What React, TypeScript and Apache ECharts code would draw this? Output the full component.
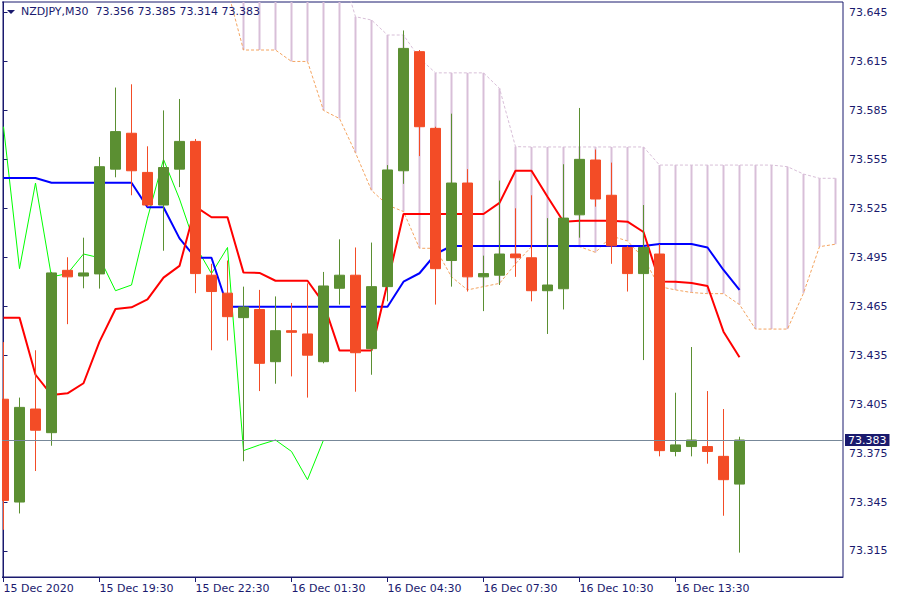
import React, { useEffect, useRef } from 'react';
import * as echarts from 'echarts';

// ---- data (bar index 0 = 15 Dec 2020 16:30, M30 bars) ----
const opens = [
  73.408, 73.345, 73.402, 73.3875, 73.487, 73.4835, 73.4848, 73.549, 73.571, 73.547,
  73.527, 73.549, 73.566, 73.484, 73.473, 73.458, 73.463, 73.431, 73.450, 73.448,
  73.431, 73.476, 73.484, 73.439, 73.477, 73.548, 73.621, 73.574, 73.493, 73.5405,
  73.483, 73.484, 73.497, 73.4947, 73.4745, 73.4757, 73.521, 73.5546, 73.533, 73.501,
  73.485, 73.497, 73.376, 73.379, 73.379, 73.373, 73.356,
];
const highs = [
  73.443, 73.409, 73.438, 73.486, 73.495, 73.507, 73.5565, 73.599, 73.601, 73.563,
  73.585, 73.592, 73.5675, 73.491, 73.493, 73.477, 73.475, 73.471, 73.467, 73.479,
  73.486, 73.506, 73.501, 73.504, 73.5515, 73.634, 73.622, 73.575, 73.583, 73.549,
  73.496, 73.542, 73.525, 73.533, 73.519, 73.552, 73.5865, 73.561, 73.553, 73.502,
  73.527, 73.503, 73.412, 73.440, 73.413, 73.402, 73.385,
];
const lows = [
  73.328, 73.338, 73.364, 73.3795, 73.454, 73.476, 73.4758, 73.544, 73.533, 73.526,
  73.499, 73.538, 73.473, 73.438, 73.444, 73.370, 73.413, 73.4175, 73.422, 73.409,
  73.430, 73.466, 73.4126, 73.423, 73.468, 73.540, 73.557, 73.466, 73.477, 73.474,
  73.462, 73.478, 73.483, 73.468, 73.448, 73.463, 73.507, 73.526, 73.491, 73.474,
  73.432, 73.373, 73.373, 73.373, 73.3685, 73.3366, 73.314,
];
const closes = [
  73.346, 73.403, 73.389, 73.4854, 73.483, 73.4854, 73.5505, 73.572, 73.548, 73.527,
  73.550, 73.566, 73.485, 73.474, 73.4586, 73.4645, 73.430, 73.450, 73.449, 73.435,
  73.4774, 73.484, 73.4365, 73.477, 73.5485, 73.623, 73.575, 73.488, 73.5405, 73.483,
  73.485, 73.497, 73.4947, 73.4745, 73.478, 73.519, 73.555, 73.5307, 73.502, 73.485,
  73.501, 73.3765, 73.380, 73.383, 73.376, 73.3587, 73.383,
];
const tenkan = [
  73.458, 73.458, 73.423, 73.4106, 73.4116, 73.4178, 73.4433, 73.4633, 73.4643, 73.4692,
  73.4825, 73.4897, 73.526, 73.5195, 73.5195, 73.4856, 73.4854, 73.4806, 73.4806, 73.4806,
  73.467, 73.4378, 73.4378, 73.4378, 73.4792, 73.5215, 73.5215, 73.5215, 73.5215, 73.5215,
  73.5215, 73.5283, 73.548, 73.548, 73.5321, 73.5168, 73.5174, 73.5174, 73.5174, 73.5168,
  73.5105, 73.4802, 73.48, 73.4792, 73.4774, 73.4494, 73.4337,
];
const kijun = [
  73.5436, 73.5436, 73.5436, 73.5407, 73.5407, 73.5407, 73.5407, 73.5407, 73.5407, 73.5256,
  73.5256, 73.5066, 73.4947, 73.4947, 73.4647, 73.4647, 73.4647, 73.4647, 73.4647, 73.4647,
  73.4647, 73.4647, 73.4647, 73.4647, 73.4647, 73.48, 73.4852, 73.497, 73.5019, 73.5019,
  73.5019, 73.5019, 73.5019, 73.5019, 73.5019, 73.5019, 73.5019, 73.5019, 73.5019, 73.5019,
  73.5019, 73.5031, 73.5031, 73.5031, 73.501, 73.4872, 73.475,
];
// Chikou span, bars 0..20
const chikou = [
  73.575, 73.488, 73.5405, 73.483, 73.485, 73.497, 73.4947, 73.4745, 73.478, 73.519,
  73.555, 73.5307, 73.502, 73.485, 73.501, 73.3765, 73.380, 73.383, 73.376, 73.3587,
  73.383,
];
// Senkou spans, bars 14..52
const spanStart = 14;
const senkouA = [
  73.659, 73.622, 73.622, 73.622, 73.615, 73.615, 73.585, 73.580, 73.559, 73.536,
  73.527, 73.523, 73.5005, 73.5005, 73.483, 73.475, 73.477, 73.479, 73.491, 73.5015,
  73.502, 73.5016, 73.5015, 73.498, 73.508, 73.505, 73.4945, 73.477, 73.475, 73.4734,
  73.4727, 73.4727, 73.466, 73.451, 73.451, 73.451, 73.473, 73.5015, 73.503,
];
const senkouB = [
  73.675, 73.675, 73.675, 73.675, 73.675, 73.675, 73.675, 73.675, 73.6424, 73.6404,
  73.6312, 73.6312, 73.617, 73.608, 73.608, 73.608, 73.608, 73.5985, 73.5628, 73.5626,
  73.5626, 73.5626, 73.5626, 73.5626, 73.5626, 73.5626, 73.5626, 73.5515, 73.5515, 73.5515,
  73.5515, 73.5515, 73.5515, 73.5515, 73.5515, 73.5505, 73.546, 73.5434, 73.5434,
];
const tickIndices = [0, 6, 12, 18, 24, 30, 36, 42];
const tickLabels = [
  '15 Dec 2020', '15 Dec 19:30', '15 Dec 22:30', '16 Dec 01:30',
  '16 Dec 04:30', '16 Dec 07:30', '16 Dec 10:30', '16 Dec 13:30',
];
const priceTicks = [
  73.315, 73.345, 73.375, 73.405, 73.435, 73.465, 73.495, 73.525, 73.555, 73.585, 73.615, 73.645,
];
const lastPrice = 73.383;
const titleText = 'NZDJPY,M30\u00a0\u00a073.356 73.385 73.314 73.383';

// ---- styles ----
const NAVY = '#1a1a6e';
const GREEN = '#5b8f32';
const RED = '#f34c26';
const THISTLE = '#d8bfd8';
const SANDY = '#f4a460';
const FONT = '"DejaVu Sans", Verdana, sans-serif';

export default function App() {
  const ref = useRef<HTMLDivElement>(null);

  useEffect(() => {
    if (!ref.current) return;
    const chart = echarts.init(ref.current, undefined, { renderer: 'svg' });

    const candleData = opens.map((o, i) => [i, o, closes[i], lows[i], highs[i]]);
    const cloudData = senkouA.map((a, i) => [spanStart + i, a, senkouB[i]]);

    chart.setOption({
      animation: false,
      backgroundColor: '#ffffff',
      textStyle: { fontFamily: FONT },
      grid: {
        left: 2, top: 2, right: 57, bottom: 23,
        show: true, borderColor: NAVY, borderWidth: 1, backgroundColor: '#ffffff',
      },
      graphic: [
        // white margin left of the plot frame (hides the part of the first candle outside the frame)
        { type: 'rect', left: 0, top: 0, shape: { width: 2, height: 600 }, style: { fill: '#ffffff' }, z: 90 },
        { type: 'polygon', shape: { points: [[7, 10], [15, 10], [11, 14]] }, style: { fill: NAVY }, z: 100 },
        {
          type: 'text', left: 21, top: 6, z: 100,
          style: { text: titleText, fill: NAVY, font: '11px ' + FONT },
        },
      ],
      xAxis: {
        type: 'value',
        min: -0.09375,
        max: 52.46875,
        splitLine: { show: false },
        axisLine: { show: true, lineStyle: { color: NAVY } },
        axisTick: { show: true, customValues: tickIndices, length: 5, lineStyle: { color: NAVY } },
        axisLabel: {
          customValues: tickIndices,
          formatter: (v: number) => {
            const idx = tickIndices.indexOf(Math.round(v));
            return idx >= 0 ? tickLabels[idx] : '';
          },
          align: 'left',
          margin: 6,
          color: NAVY,
          fontSize: 11,
          fontFamily: FONT,
        },
      },
      yAxis: {
        type: 'value',
        position: 'right',
        min: 73.29906,
        max: 73.65143,
        scale: true,
        splitLine: { show: false },
        axisLine: { show: true, lineStyle: { color: NAVY } },
        axisTick: { show: true, customValues: priceTicks, length: 4, lineStyle: { color: NAVY } },
        axisLabel: {
          customValues: priceTicks,
          formatter: (v: number) => v.toFixed(3),
          margin: 6,
          color: NAVY,
          fontSize: 11,
          lineHeight: 11,
          fontFamily: FONT,
        },
      },
      series: [
        {
          type: 'custom',
          name: 'Cloud',
          data: cloudData,
          encode: { x: 0, y: [1, 2] },
          clip: true,
          silent: true,
          z: 1,
          renderItem: (params: any, api: any) => {
            const x = api.value(0);
            const p1 = api.coord([x, api.value(1)]);
            const p2 = api.coord([x, api.value(2)]);
            return {
              type: 'line',
              shape: { x1: p1[0], y1: p1[1], x2: p2[0], y2: p2[1] },
              style: { stroke: THISTLE, lineWidth: 2 },
            };
          },
        },
        {
          type: 'line', name: 'Senkou A', z: 2, silent: true, showSymbol: false, symbol: 'none',
          data: senkouA.map((v, i) => [spanStart + i, v]),
          lineStyle: { color: SANDY, width: 1, type: [3, 2] },
        },
        {
          type: 'line', name: 'Senkou B', z: 2, silent: true, showSymbol: false, symbol: 'none',
          data: senkouB.map((v, i) => [spanStart + i, v]),
          lineStyle: { color: THISTLE, width: 1, type: [3, 2] },
        },
        {
          type: 'line', name: 'Chikou', z: 3, silent: true, showSymbol: false, symbol: 'none',
          data: chikou.map((v, i) => [i, v]),
          lineStyle: { color: '#00ff00', width: 1 },
        },
        {
          type: 'line', name: 'Kijun', z: 3, silent: true, showSymbol: false, symbol: 'none',
          data: kijun.map((v, i) => [i, v]),
          lineStyle: { color: '#0000ff', width: 2 },
        },
        {
          type: 'line', name: 'Tenkan', z: 3, silent: true, showSymbol: false, symbol: 'none',
          data: tenkan.map((v, i) => [i, v]),
          lineStyle: { color: '#ff0000', width: 2 },
        },
        {
          type: 'candlestick',
          name: 'NZDJPY',
          z: 4,
          silent: true,
          clip: true,
          barWidth: 10,
          data: candleData,
          encode: { x: 0, y: [1, 2, 3, 4] },
          itemStyle: {
            color: GREEN, color0: RED, borderColor: GREEN, borderColor0: RED, borderWidth: 1,
          },
          markLine: {
            silent: true,
            precision: 3,
            symbol: ['none', 'none'],
            lineStyle: { color: '#778899', width: 1, type: 'solid' },
            label: {
              show: true,
              position: 'end',
              formatter: lastPrice.toFixed(3),
              color: '#ffffff',
              backgroundColor: NAVY,
              padding: [0, 3, 0, 3],
              lineHeight: 12,
              fontSize: 11,
              fontFamily: FONT,
              distance: 2,
            },
            data: [{ yAxis: lastPrice }],
          },
        },
      ],
    });

    return () => chart.dispose();
  }, []);

  return (
    <div
      ref={ref}
      style={{ position: 'absolute', left: 0, top: 0, width: 900, height: 600, background: '#fff' }}
    />
  );
}
